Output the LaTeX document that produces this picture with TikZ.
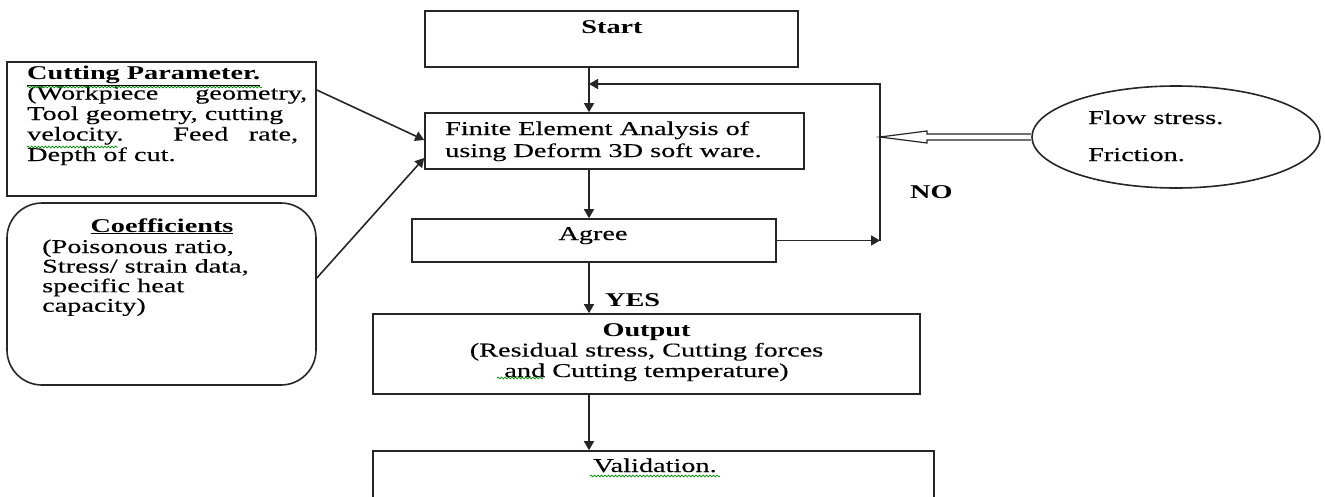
\documentclass[tikz,border=0pt]{standalone}
\usepackage{fontspec}
\setmainfont{Liberation Serif}[FakeStretch=1.45, UprightFeatures={FakeBold=0.3}]
\usetikzlibrary{arrows.meta,calc,shapes.geometric,decorations.pathmorphing}

\tikzset{
  box/.style={draw=black!85, line width=1.6pt, rectangle, inner sep=0pt},
  link/.style={draw=black!85, line width=1.6pt},
  arr/.style={link, -{Triangle[length=9pt,width=10pt]}},
  txt/.style={inner sep=0pt, font=\fontsize{19.5}{20.5}\selectfont},
  typo/.style={draw=green!55!black, line width=0.7pt, decorate,
    decoration={snake, amplitude=0.9pt, segment length=3.5pt}},
}

\begin{document}
\begin{tikzpicture}[x=1pt, y=-1pt]
\useasboundingbox (0,0) rectangle (1325,496);
\fill[white] (0,0) rectangle (1325,496);
\clip (0,0) rectangle (1325,496);

% flow boxes
\node[box, minimum width=373pt, minimum height=56pt] (start)  at (611.5,39)  {};
\node[box, minimum width=379pt, minimum height=56pt] (fea)    at (614.5,141) {};
\node[box, minimum width=364pt, minimum height=43pt] (agree)  at (594,240.5) {};
\node[box, minimum width=547pt, minimum height=80pt] (output) at (646.5,354) {};
\node[box, minimum width=561pt, minimum height=80pt] (valid)  at (653.5,491) {};

% input boxes
\node[box, minimum width=309pt, minimum height=134pt] (cut)  at (161.5,129) {};
\node[box, rounded corners=35pt, minimum width=309pt, minimum height=182pt] (coef) at (161.5,294) {};
\node[box, ellipse, minimum width=288pt, minimum height=102pt] (ell) at (1176,137) {};

% texts
\node[txt, anchor=base] at (612,33) {\bfseries Start};
\node[txt, anchor=base west] at (445,135)
  {\fontsize{19.5}{22}\selectfont\parbox[t]{350pt}{Finite Element Analysis of\\using Deform 3D soft ware.}};
\node[txt, anchor=base] at (593,240) {Agree};
\node[txt, anchor=base west] at (605,306) {\bfseries YES};
\node[txt, anchor=base west] at (910,198) {\bfseries NO};
\node[txt, anchor=base] at (646.5,336)
  {\parbox[t]{540pt}{\centering\bfseries Output\\ \mdseries (Residual stress, Cutting forces\\ and Cutting temperature)}};
\node[txt, anchor=base] at (655,472) {Validation.};

\node[txt, anchor=base west] at (27,79)
  {\parbox[t]{285pt}{\bfseries\underline{Cutting Parameter.}\\
   \mdseries\makebox[280pt][s]{(Workpiece geometry,}\\
   Tool geometry, cutting\\
   \makebox[271pt][s]{velocity. Feed rate,}\\
   Depth of cut.}};

\node[txt, anchor=base] at (162,232) {\bfseries\underline{Coefficients}};
\node[txt, anchor=base west] at (42,253)
  {\fontsize{19.5}{19.6}\selectfont\parbox[t]{270pt}{(Poisonous ratio,\\ Stress/ strain data,\\ specific heat\\ capacity)}};

\node[txt, anchor=base west] at (1088,124) {Flow stress.};
\node[txt, anchor=base west] at (1088,161) {Friction.};

% spelling marks under words
\draw[typo] (27,87) -- (262,87);
\draw[typo] (27,147) -- (118,147);
\draw[typo] (497,378) -- (543,378);
\draw[typo] (590,476) -- (720,476);

% connectors
\coordinate (mx) at (589,0);
\coordinate (fbx) at (880,84);
\draw[arr] (start.south -| mx) -- (fea.north -| mx);
\draw[arr] (fea.south -| mx) -- (agree.north -| mx);
\draw[arr] (agree.south -| mx) -- (output.north -| mx);
\draw[arr] (output.south -| mx) -- (valid.north -| mx);
\draw[arr] (agree.east) -- (agree.east -| fbx);
\draw[arr] (agree.east -| fbx) -- (fbx) -- (fbx -| mx);

\draw[arr] ($(cut.east)+(0,-39)$) -- ($(fea.west)+(0,-1)$);
\draw[arr] ($(coef.east)+(0,-16)$) -- ($(fea.west)+(0,17)$);

% hollow arrow from the material data
\coordinate (tip) at (fbx |- ell.west);
\draw[link, line width=1.2pt, line join=miter]
  ($(ell.west)+(0,-3)$) -- ($(tip)+(47,-3)$) -- ($(tip)+(47,-6)$) -- (tip)
  -- ($(tip)+(47,6)$) -- ($(tip)+(47,3)$) -- ($(ell.west)+(0,3)$);
\end{tikzpicture}
\end{document}
